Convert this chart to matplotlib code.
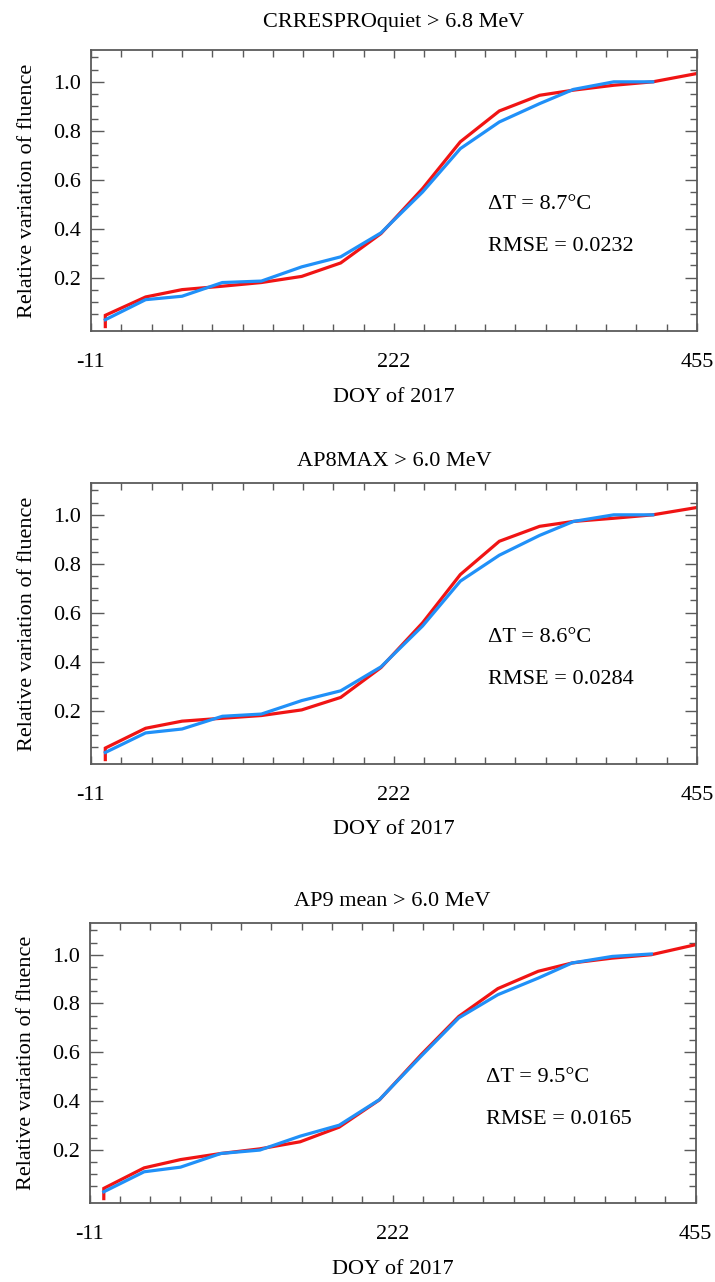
import numpy as np
import matplotlib
matplotlib.use("Agg")
import matplotlib.pyplot as plt
from matplotlib.ticker import FixedLocator

plt.rcParams['font.family'] = ['Liberation Serif', 'DejaVu Serif']

# ---------------- data ----------------
titles = ["CRRESPROquiet > 6.8 MeV", "AP8MAX > 6.0 MeV", "AP9 mean > 6.0 MeV"]
delta_t = ["8.7", "8.6", "9.5"]
rmse = ["0.0232", "0.0284", "0.0165"]

red_days = [0, 0, 31, 59, 90, 120, 151, 181, 212, 244, 273, 303, 334, 360, 391, 421, 455]
blue_days = [0, 31, 59, 90, 120, 151, 181, 212, 244, 273, 303, 334, 360, 391, 421]

red_p1 = [0.0, 0.046, 0.121, 0.151, 0.165, 0.180, 0.205, 0.260, 0.380, 0.564, 0.755, 0.881, 0.945, 0.966, 0.986, 1.000, 1.034]
blue_p1 = [0.028, 0.110, 0.124, 0.180, 0.186, 0.244, 0.285, 0.383, 0.550, 0.727, 0.836, 0.911, 0.969, 1.000, 1.000]

red_p2 = [0.0, 0.047, 0.128, 0.157, 0.169, 0.180, 0.203, 0.254, 0.376, 0.559, 0.756, 0.892, 0.953, 0.973, 0.986, 1.000, 1.030]
blue_p2 = [0.029, 0.109, 0.125, 0.177, 0.186, 0.241, 0.281, 0.379, 0.546, 0.729, 0.835, 0.916, 0.973, 1.000, 1.000]

red_p3 = [0.0, 0.042, 0.126, 0.160, 0.185, 0.204, 0.233, 0.293, 0.405, 0.590, 0.747, 0.861, 0.932, 0.966, 0.986, 1.000, 1.041]
blue_p3 = [0.028, 0.110, 0.129, 0.185, 0.199, 0.256, 0.301, 0.406, 0.584, 0.741, 0.836, 0.904, 0.966, 0.993, 1.003]

red_series = [red_p1, red_p2, red_p3]
blue_series = [blue_p1, blue_p2, blue_p3]

x_major = [-11, 222, 455]
y_major = [0.2, 0.4, 0.6, 0.8, 1.0]
y_labels = ["0.2", "0.4", "0.6", "0.8", "1.0"]

# ---------------- figure ----------------
W, H = 715, 1282
fig = plt.figure(figsize=(W / 100, H / 100), dpi=100)

# axes boxes in pixels: (left, top, width, height)
boxes = [(91, 50, 606, 281), (91, 483, 606, 281), (89.5, 923, 606, 280)]
title_y = [23, 461, 902]

red_c = "#F01414"
blue_c = "#2090F8"
spine_c = "#5A5A5A"
FS = 16

for i in range(3):
    l, t, w, h = boxes[i]
    ax = fig.add_axes([l / W, 1 - (t + h) / H, w / W, h / H])
    ax.plot(red_days, red_series[i], color=red_c, lw=2.3, solid_joinstyle='miter')
    ax.plot(blue_days, blue_series[i], color=blue_c, lw=2.3, solid_joinstyle='miter')

    ax.set_xlim(-11, 455)
    ax.set_ylim(-0.018, 1.13)

    ax.set_xticks(x_major)
    ax.set_xticklabels([str(v) for v in x_major])
    xminor = np.linspace(-11, 455, 21)
    ax.xaxis.set_minor_locator(FixedLocator(xminor))

    ax.set_yticks(y_major)
    ax.set_yticklabels(y_labels)
    yminor = [v for v in np.arange(0.05, 1.11, 0.05) if abs(round(v / 0.2) * 0.2 - v) > 1e-6]
    ax.yaxis.set_minor_locator(FixedLocator(yminor))

    ax.tick_params(axis='both', which='both', direction='in', top=True, right=True,
                   color=spine_c, width=1.0, labelsize=FS)
    ax.tick_params(axis='y', which='major', length=9, pad=7)
    ax.tick_params(axis='y', which='minor', length=5)
    ax.tick_params(axis='x', which='major', length=6, pad=16)
    ax.tick_params(axis='x', which='minor', length=5)

    for s in ax.spines.values():
        s.set_color(spine_c)
        s.set_linewidth(1.3)

    ax.set_xlabel("DOY of 2017", fontsize=FS)
    ax.xaxis.set_label_coords(0.5, -66 / h)
    ax.xaxis.label.set_va('center')
    ax.set_ylabel("Relative variation of fluence", fontsize=FS)
    ax.yaxis.set_label_coords(-63 / w, 0.5)
    ax.yaxis.label.set_va('center')

    ax.text(0.655, 0.45, "\u0394T = " + delta_t[i] + "\u00b0C", transform=ax.transAxes,
            fontsize=FS, ha='left', va='center')
    ax.text(0.655, 0.30, "RMSE = " + rmse[i], transform=ax.transAxes,
            fontsize=FS, ha='left', va='center')

    fig.text((l + w / 2) / W, 1 - title_y[i] / H, titles[i],
             fontsize=FS, ha='center', va='center')

fig.savefig("out.png", dpi=100)
